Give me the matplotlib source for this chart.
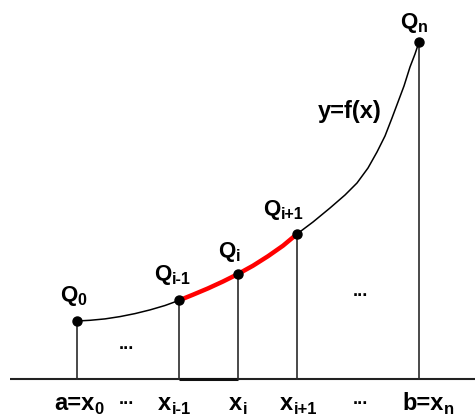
import numpy as np
import matplotlib
matplotlib.use('Agg')
from matplotlib import pyplot as plt

plt.rcParams['font.family'] = ['Liberation Sans', 'DejaVu Sans']
plt.rcParams['font.weight'] = 'bold'

#===============================================================
###  Data (pixel space, y grows downward)
#===============================================================
curve_x = [77, 90, 105, 120, 135, 150, 165, 179, 193, 208, 223, 238, 253, 268, 283, 297,
           313, 330, 345, 357, 368, 377, 385, 392, 398, 404, 410, 415, 419]
curve_y = [321, 320.3, 318.9, 316.6, 313.6, 309.9, 305.5, 300.4, 294.7, 288.4, 281.5, 274, 265.7, 256.2, 245.7, 234,
           222, 208, 195, 183, 168, 152, 136, 118, 102, 86, 67, 54, 42]

node_x = [77, 179, 238, 297, 419]
node_y = [321, 300.4, 274, 234, 42]

node_main = ['Q', 'Q', 'Q', 'Q', 'Q']
node_sub = ['0', 'i-1', 'i', 'i+1', 'n']
tick_main = ['a=x', 'x', 'x', 'x', 'b=x']
tick_sub = ['0', 'i-1', 'i', 'i+1', 'n']

base_y = 379

#===============================================================
###  Plot
#===============================================================
fig = plt.figure(figsize=(4.75, 4.18), dpi=100)
ax = fig.add_axes([0, 0, 1, 1])
ax.set_xlim(0, 475)
ax.set_ylim(418, 0)
ax.axis('off')
rend = fig.canvas.get_renderer()

# axis line
ax.plot([10, 475], [base_y, base_y], color='#222222', lw=1.5, solid_capstyle='butt')
ax.plot([node_x[1], node_x[2]], [base_y, base_y], color='#111111', lw=2.2, solid_capstyle='butt')

# verticals
for x, y in zip(node_x, node_y):
    ax.plot([x, x], [base_y, y], color='#2a2a2a', lw=1.2)

# curve + red chord part
ax.plot(curve_x, curve_y, color='black', lw=1.1)
cx = np.array(curve_x)
cy = np.array(curve_y)
m = (cx >= node_x[1]) & (cx <= node_x[3])
ax.plot(cx[m], cy[m], color='#ff0000', lw=3.2, solid_capstyle='round', solid_joinstyle='round')

ax.plot(node_x, node_y, 'o', color='black', ms=6.5, zorder=5)


def sub_label(x, y, main, sub, fs, fs_sub, drop):
    # 1 data unit == 1 pixel here, so extents can be used directly
    t = ax.text(x, y, main, fontsize=fs, ha='left', va='baseline')
    w = t.get_window_extent(rend).width
    ax.text(x + w + 0.5, y + drop, sub, fontsize=fs_sub, ha='left', va='baseline')


top_pos = [(60, 301), (154, 280), (218, 257), (263, 215), (400, 28)]
for (x, y), a, b in zip(top_pos, node_main, node_sub):
    sub_label(x, y, a, b, 16, 11.5, 4)

bot_pos = [(54, 410), (158, 410), (229, 410), (280, 410), (402, 410)]
for (x, y), a, b in zip(bot_pos, tick_main, tick_sub):
    sub_label(x, y, a, b, 17, 12, 4)

ax.text(318, 118, 'y=f(x)', fontsize=17, ha='left', va='baseline')

for x, y in [(126, 349), (360, 296), (126, 404), (360, 404)]:
    ax.text(x, y, '...', fontsize=13, ha='center', va='baseline')

fig.savefig('out.png', dpi=100)
